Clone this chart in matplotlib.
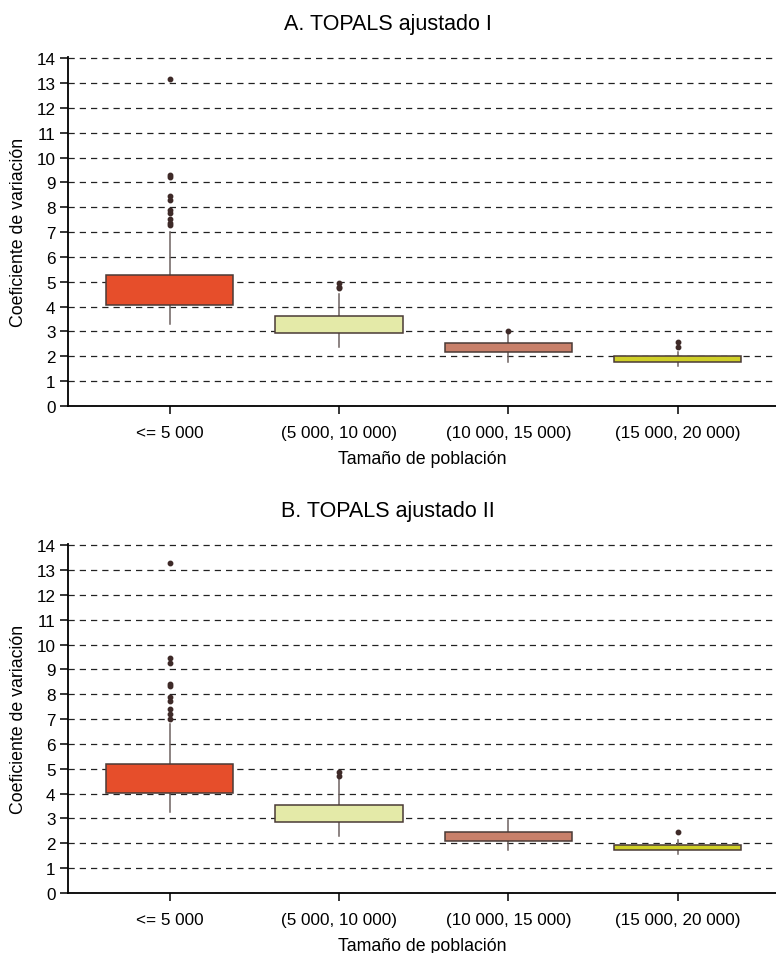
import matplotlib
matplotlib.use('Agg')
import matplotlib.pyplot as plt

plt.rcParams['font.family'] = ['Liberation Sans', 'DejaVu Sans']

categories = ['<= 5 000', '(5 000, 10 000)', '(10 000, 15 000)', '(15 000, 20 000)']
colors = ['#E64E2B', '#E4EAA8', '#C8806A', '#CFCF28']

# box stats per group: whislo, q1, med, q3, whishi
stats_a = [
    [3.32, 4.08, 4.57, 5.27, 6.99],
    [2.36, 2.92, 3.22, 3.63, 4.50],
    [1.78, 2.16, 2.32, 2.52, 2.98],
    [1.59, 1.78, 1.89, 2.00, 2.16],
]
fliers_a = [
    [7.30, 7.35, 7.54, 7.75, 7.91, 8.31, 8.45, 9.20, 9.28, 13.16],
    [4.73, 4.80, 4.97],
    [3.03],
    [2.36, 2.56],
]

stats_b = [
    [3.28, 4.04, 4.52, 5.18, 6.80],
    [2.30, 2.86, 3.20, 3.56, 4.60],
    [1.72, 2.09, 2.25, 2.47, 2.95],
    [1.55, 1.72, 1.83, 1.94, 2.13],
]
fliers_b = [
    [6.99, 7.21, 7.42, 7.71, 7.90, 8.33, 8.41, 9.24, 9.45, 13.29],
    [4.73, 4.87],
    [],
    [2.45],
]


def draw(ax, stats, fliers, title):
    bstats = []
    for s, f in zip(stats, fliers):
        bstats.append(dict(whislo=s[0], q1=s[1], med=s[2], q3=s[3], whishi=s[4], fliers=f))
    bp = ax.bxp(bstats, positions=range(len(categories)), widths=0.75,
                patch_artist=True, showcaps=False,
                boxprops=dict(edgecolor='#4A3A36', linewidth=1.1),
                medianprops=dict(color='#3E2A28', linewidth=1.6),
                whiskerprops=dict(color='#6E6260', linewidth=1.1),
                flierprops=dict(marker='o', markersize=3.2, markerfacecolor='#3E2A28',
                                markeredgecolor='#3E2A28'))
    for patch, c in zip(bp['boxes'], colors):
        patch.set_facecolor(c)
        patch.set_zorder(3)
    ax.set_ylim(0, 14.05)
    ax.set_xlim(-0.6, 3.58)
    ax.set_yticks(range(0, 15))
    ax.set_xticks(range(len(categories)))
    ax.set_xticklabels(categories)
    ax.yaxis.grid(True, linestyle=(0, (5, 4)), color='#222222', linewidth=0.9)
    ax.set_axisbelow(True)
    for side in ['top', 'right']:
        ax.spines[side].set_visible(False)
    ax.spines['left'].set_linewidth(1.3)
    ax.spines['bottom'].set_linewidth(1.3)
    ax.tick_params(axis='both', labelsize=12.3, length=6, width=1.1, pad=3)
    ax.tick_params(axis='x', pad=8)
    ax.set_ylabel('Coeficiente de variación', fontsize=12.8, labelpad=7)
    ax.set_xlabel('Tamaño de población', fontsize=12.8, labelpad=7)
    # title centred on the figure rather than on the axes
    ax.set_title(title, fontsize=15.5, pad=20, x=0.452)


fig = plt.figure(figsize=(7.76, 9.54), dpi=100)
ax1 = fig.add_axes([0.0876, 0.5734, 0.9124, 0.3658])
ax2 = fig.add_axes([0.0876, 0.0629, 0.9124, 0.3658])

draw(ax1, stats_a, fliers_a, 'A. TOPALS ajustado I')
draw(ax2, stats_b, fliers_b, 'B. TOPALS ajustado II')

fig.savefig('out.png', dpi=100)
